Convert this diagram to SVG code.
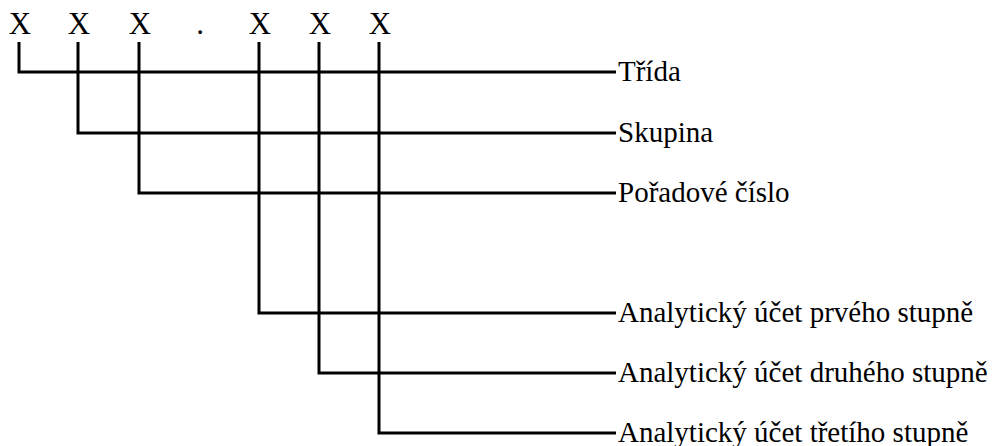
<svg xmlns="http://www.w3.org/2000/svg" width="992" height="446" viewBox="0 0 992 446">
<style>
.t{font-family:"Liberation Serif","Times New Roman",Times,serif;font-size:29px;fill:#000}
.x{font-family:"Liberation Serif","Times New Roman",Times,serif;font-size:31px;fill:#000;text-anchor:middle}
.c{fill:none;stroke:#000;stroke-width:3}
</style>
<rect width="992" height="446" fill="#fff"/>
<g id="digits">
<text class="x" x="20" y="34">X</text>
<text class="x" x="79" y="34">X</text>
<text class="x" x="140" y="34">X</text>
<text class="x" x="200" y="34">.</text>
<text class="x" x="260" y="34">X</text>
<text class="x" x="320" y="34">X</text>
<text class="x" x="380" y="34">X</text>
</g>
<g id="connectors">
<path class="c" d="M19 42V72H616"/>
<path class="c" d="M78 42V133H616"/>
<path class="c" d="M139 42V193H616"/>
<path class="c" d="M259 42V313H616"/>
<path class="c" d="M319 42V373H616"/>
<path class="c" d="M379 42V433H616"/>
</g>
<g id="n1"><text class="t" x="618" y="81">Třída</text></g>
<g id="n2"><text class="t" x="618" y="142">Skupina</text></g>
<g id="n3"><text class="t" x="618" y="202">Pořadové číslo</text></g>
<g id="n4"><text class="t" x="618" y="322">Analytický účet prvého stupně</text></g>
<g id="n5"><text class="t" x="618" y="382">Analytický účet druhého stupně</text></g>
<g id="n6"><text class="t" x="618" y="442">Analytický účet třetího stupně</text></g>
</svg>
